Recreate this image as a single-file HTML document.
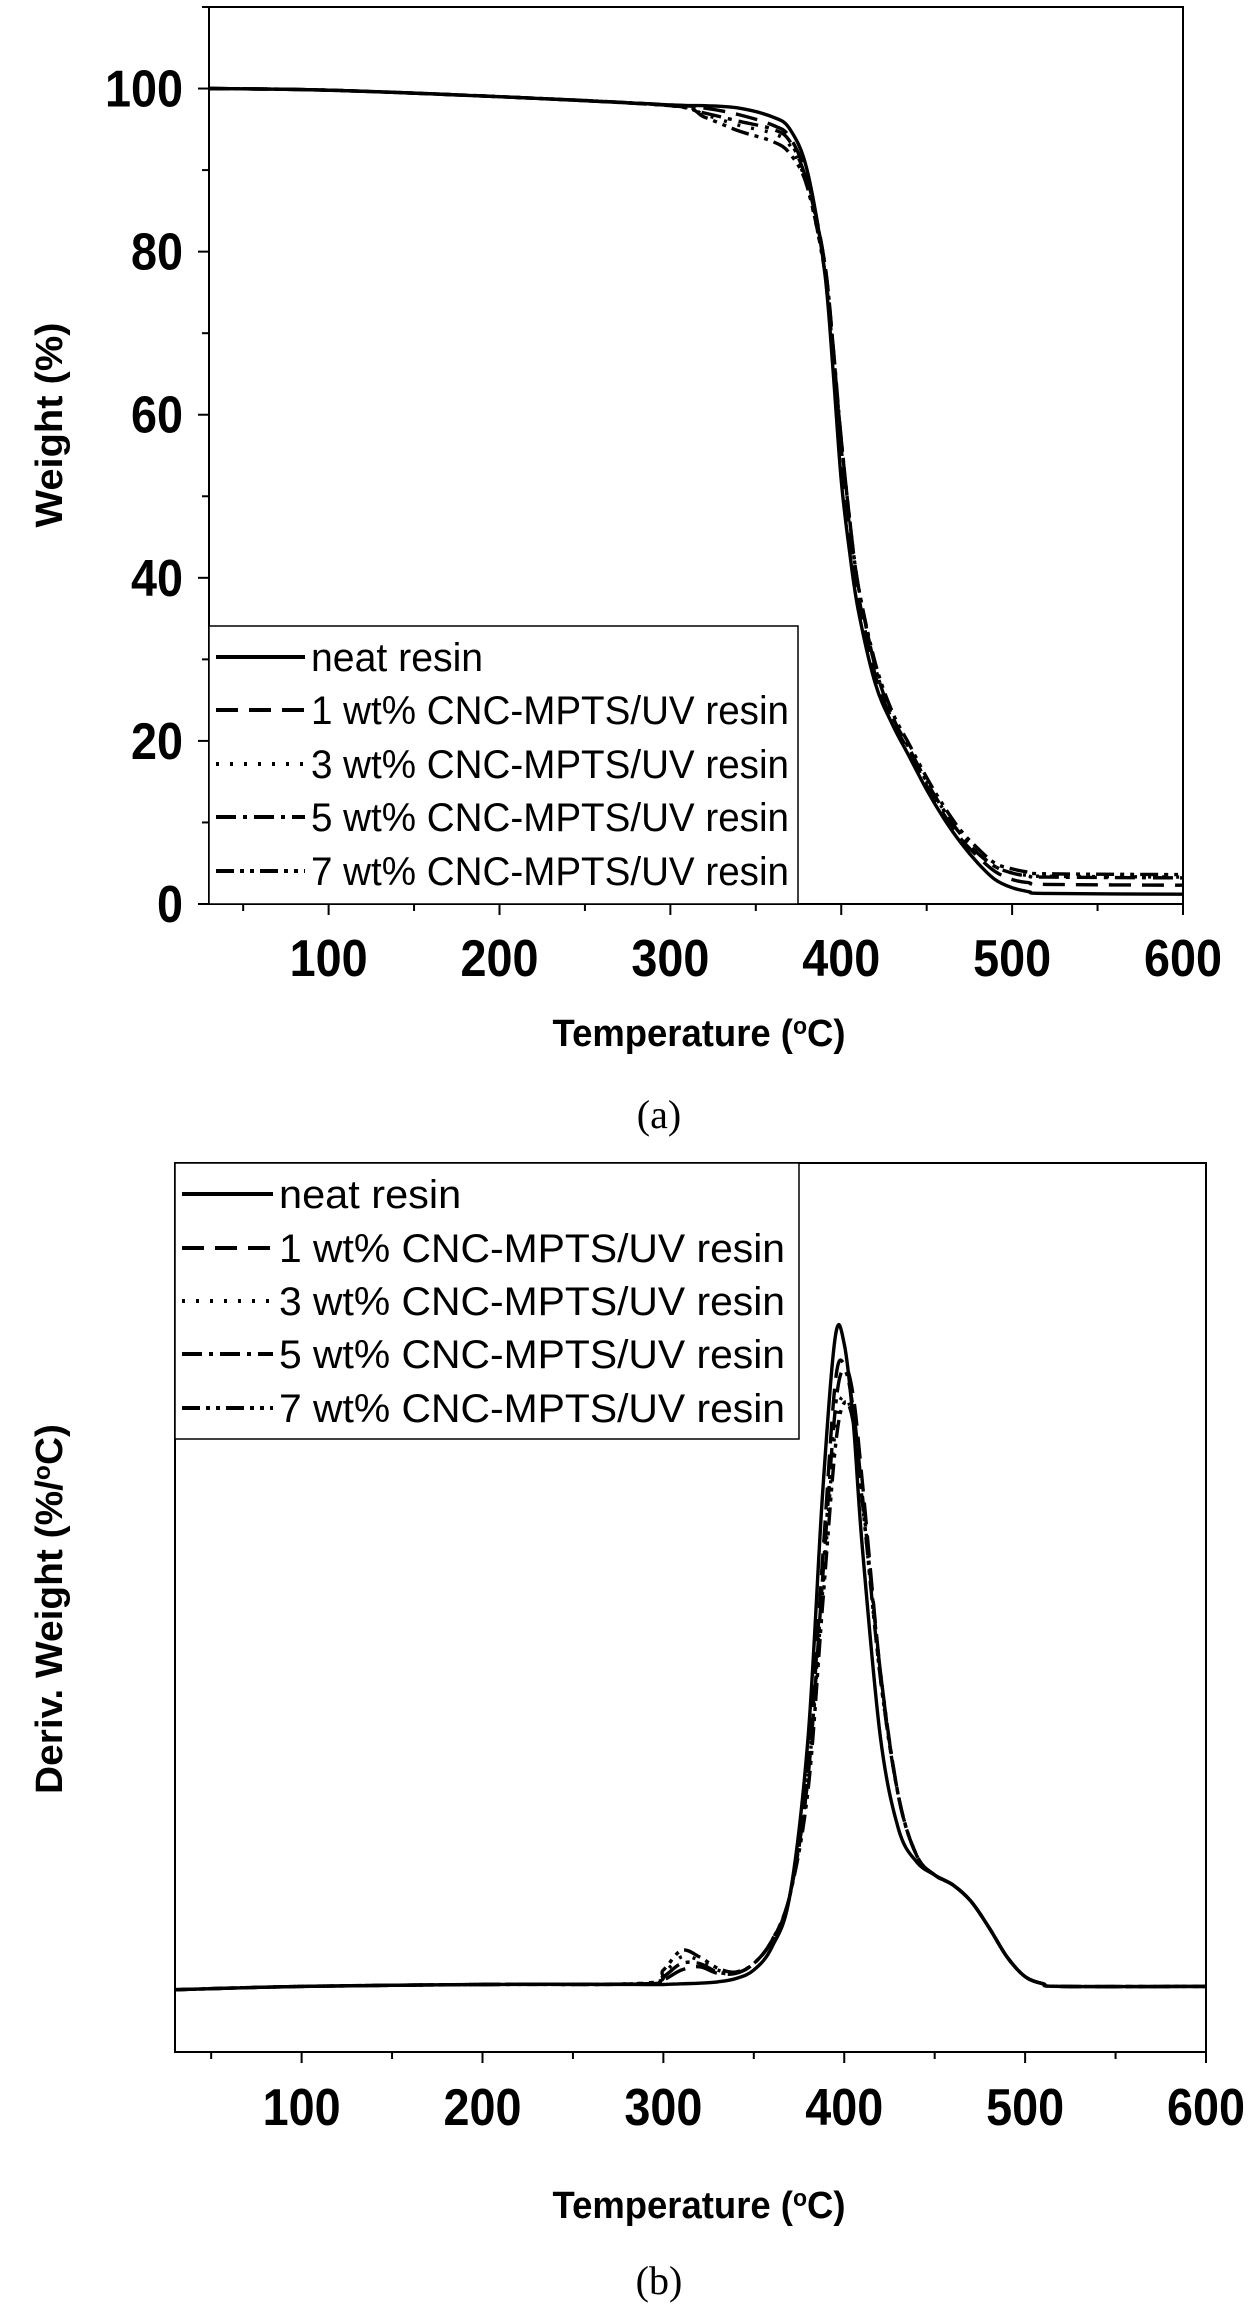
<!DOCTYPE html>
<html><head><meta charset="utf-8">
<style>
html,body{margin:0;padding:0;background:#fff;}
svg{display:block;}
text{font-family:"Liberation Sans",sans-serif;fill:#000;}
.tk{font-weight:bold;font-size:52px;}
.ttl{font-weight:bold;font-size:38px;}
.lg{font-size:40px;}
.cap{font-family:"Liberation Serif",serif;font-size:40px;}
</style></head>
<body>
<svg id="fig" width="1260" height="2314" viewBox="0 0 1260 2314" xmlns="http://www.w3.org/2000/svg"></svg>
<script>
const seriesNames = ["neat resin","1 wt% CNC-MPTS/UV resin","3 wt% CNC-MPTS/UV resin","5 wt% CNC-MPTS/UV resin","7 wt% CNC-MPTS/UV resin"];
const xTicks = [100,200,300,400,500,600];
const yTicksA = [0,20,40,60,80,100];
// TGA (a)
const tgaT = [30,100,200,300,320,340,360,370,380,390,395,400,405,410,420,430,440,450,460,470,480,490,500,510,520,600];
const tgaNeat = [100,99.8,99.0,98.0,97.9,97.6,96.5,95,90,78,66,52,43,36,27,22,18,14,10.5,7.5,5,3,2,1.5,1.3,1.2];
const tga1 = [100,99.8,99.0,98.0,97.6,96.8,95.5,94,89,79,69,56,46,38,28,22.5,18.5,14.5,11,8,5.8,4,3,2.6,2.4,2.3];
const tga3 = [100,99.8,99.0,97.9,96.8,95.5,94.5,93,88,78,68,57,47,39,29,23,19,15,11.5,8.5,6.3,4.6,3.8,3.5,3.4,3.3];
const tga5 = [100,99.8,99.0,97.9,97.0,96,95,93.5,88.5,79,69,57,47,39,29,23,19,15,11.5,8.5,6.2,4.6,3.8,3.4,3.3,3.2];
const tga7 = [100,99.8,99.0,97.9,96.5,94.8,93.5,92,88,78,68,57,47,39,29.5,23.5,19.5,15.5,12,9,6.8,5,4.3,3.9,3.7,3.6];
// DTG (b)
const dtgT = [30,100,200,290,300,310,320,330,340,350,360,370,380,388,395,400,405,410,420,430,440,450,460,470,480,490,500,510,520,600];
const dtgNeat = [-0.005,0,0.003,0.003,0.003,0.004,0.005,0.007,0.012,0.025,0.06,0.14,0.38,0.75,0.99,0.98,0.86,0.67,0.38,0.24,0.19,0.17,0.155,0.13,0.09,0.045,0.015,0.004,0,0];
const dtg1 = [-0.005,0,0.003,0.004,0.01,0.025,0.03,0.02,0.02,0.035,0.07,0.14,0.33,0.65,0.92,0.95,0.9,0.77,0.48,0.29,0.2,0.17,0.155,0.13,0.09,0.045,0.015,0.004,0,0];
const dtg3 = [-0.005,0,0.003,0.005,0.02,0.045,0.04,0.025,0.02,0.035,0.07,0.14,0.32,0.6,0.85,0.9,0.86,0.74,0.47,0.29,0.2,0.17,0.155,0.13,0.09,0.045,0.015,0.004,0,0];
const dtg5 = [-0.005,0,0.003,0.004,0.015,0.035,0.035,0.022,0.02,0.035,0.07,0.14,0.32,0.62,0.88,0.94,0.88,0.75,0.48,0.29,0.2,0.17,0.155,0.13,0.09,0.045,0.015,0.004,0,0];
const dtg7 = [-0.005,0,0.003,0.005,0.025,0.055,0.045,0.028,0.022,0.035,0.07,0.14,0.3,0.58,0.82,0.89,0.86,0.74,0.47,0.29,0.2,0.17,0.155,0.13,0.09,0.045,0.015,0.004,0,0];

const dashes = ["", "22,11", "3,11", "20,7,4,7", "18,6,4,6,4,6"];
const NS = "http://www.w3.org/2000/svg";
const svg = document.getElementById("fig");
function el(tag, attrs, parent, txt){
  const e = document.createElementNS(NS, tag);
  for (const k in attrs) e.setAttribute(k, attrs[k]);
  if (txt !== undefined) e.textContent = txt;
  (parent||svg).appendChild(e);
  return e;
}
function smoothPath(pts){
  let d = "M" + pts[0][0].toFixed(1) + "," + pts[0][1].toFixed(1);
  for (let i=0;i<pts.length-1;i++){
    const p0=pts[Math.max(0,i-1)], p1=pts[i], p2=pts[i+1], p3=pts[Math.min(pts.length-1,i+2)];
    const c1=[p1[0]+(p2[0]-p0[0])/6, p1[1]+(p2[1]-p0[1])/6];
    const c2=[p2[0]-(p3[0]-p1[0])/6, p2[1]-(p3[1]-p1[1])/6];
    d += "C"+c1[0].toFixed(1)+","+c1[1].toFixed(1)+" "+c2[0].toFixed(1)+","+c2[1].toFixed(1)+" "+p2[0].toFixed(1)+","+p2[1].toFixed(1);
  }
  return d;
}
function panel(cfg){
  const g = el("g", {});
  
  
  const X = v => cfg.L + (v - cfg.xmin) / (cfg.xmax - cfg.xmin) * (cfg.R - cfg.L);
  const Y = v => cfg.B - (v - cfg.ymin) / (cfg.ymax - cfg.ymin) * (cfg.B - cfg.T);
  const clip = el("clipPath", {id: cfg.name+"-clip"}, g);
  el("rect", {x:cfg.L, y:cfg.T, width:cfg.R-cfg.L, height:cfg.B-cfg.T}, clip);
  cfg.series.forEach((s,i)=>{
    const pts = cfg.xs.map((t,j)=>[X(t), Y(s[j])]);
    const p = el("path", {d: smoothPath(pts), fill:"none", stroke:"#000", "stroke-width":3.4, "stroke-dasharray":dashes[i], "clip-path":"url(#"+cfg.name+"-clip)"}, g);
    
    
  });
  const fr = el("rect", {x:cfg.L, y:cfg.T, width:cfg.R-cfg.L, height:cfg.B-cfg.T, fill:"none", stroke:"#000", "stroke-width":2}, g);
  
  
  for (let v=50; v<=600; v+=50){
    el("line", {x1:X(v), x2:X(v), y1:cfg.B, y2:cfg.B+(v%100===0?11:7), stroke:"#000","stroke-width":2}, g);
  }
  xTicks.forEach(v=>{
    const s = String(v);
    const t = el("text", {x:X(v), y:cfg.xLabY, "text-anchor":"middle", class:"tk", textLength:s.length*26, lengthAdjust:"spacingAndGlyphs"}, g, s);
    
    
  });
  if (cfg.yTicks){
    for (let v=0; v<=110; v+=10){
      el("line", {x1:cfg.L, x2:cfg.L-(v%20===0?11:7), y1:Y(v), y2:Y(v), stroke:"#000","stroke-width":2}, g);
    }
    cfg.yTicks.forEach(v=>{
      const s = String(v);
      const t = el("text", {x:cfg.L-26, y:Y(v)+18, "text-anchor":"end", class:"tk", textLength:s.length*26, lengthAdjust:"spacingAndGlyphs"}, g, s);
      
      
    });
  }
  const xt = el("text", {x:cfg.xTitleX, y:cfg.xTitleY, "text-anchor":"middle", class:"ttl", textLength:293, lengthAdjust:"spacingAndGlyphs"}, g);
  
  
  xt.innerHTML = 'Temperature (<tspan dy="-12" font-size="24">o</tspan><tspan dy="12">C)</tspan>';
  const yt = el("text", {x:0, y:0, "text-anchor":"middle", class:"ttl", textLength:cfg.yTitleLen, lengthAdjust:"spacingAndGlyphs", transform:"translate(62,"+cfg.yTitleY+") rotate(-90)"}, g);
  
  
  yt.innerHTML = cfg.yTitle;
  const lg = el("g", {}, g);
  
  
  el("rect", {x:cfg.lgX, y:cfg.lgY, width:cfg.lgW, height:cfg.lgH, fill:"#fff", stroke:"#000", "stroke-width":1.5}, lg);
  seriesNames.forEach((n,i)=>{
    const ry = cfg.lgRows[i];
    const e = el("g", {}, lg);
    
    
    el("line", {x1:cfg.lgX+7, x2:cfg.lgX+cfg.sampleW, y1:ry, y2:ry, stroke:"#000", "stroke-width":4, "stroke-dasharray":dashes[i]}, e);
    const attrs = {x:cfg.lgX+cfg.sampleW+6, y:ry+14, class:"lg", lengthAdjust:"spacingAndGlyphs"};
    attrs.textLength = i>0 ? cfg.lgTextW : cfg.lgTextW*0.36;
    el("text", attrs, e, n);
  });
  const c = el("text", {x:cfg.capX, y:cfg.capY, "text-anchor":"middle", class:"cap"}, g, cfg.cap);
  
  
}
panel({name:"tga-chart", L:209, R:1183, T:7, B:904, xmin:30, xmax:600, ymin:0, ymax:110,
  xs:tgaT, series:[tgaNeat,tga1,tga3,tga5,tga7], yTicks:yTicksA, xLabY:976,
  xTitleX:699, xTitleY:1046, yTitleY:425, yTitle:"Weight (%)", yTitleLen:205,
  lgX:209, lgY:626, lgW:589, lgH:278, lgRows:[657,710,764,817,871], sampleW:96, lgTextW:478,
  cap:"(a)", capX:659, capY:1128});
panel({name:"dtg-chart", L:175, R:1206, T:1163, B:2052, xmin:30, xmax:600, ymin:-0.1, ymax:1.256,
  xs:dtgT, series:[dtgNeat,dtg1,dtg3,dtg5,dtg7], yTicks:null, xLabY:2125,
  xTitleX:699, xTitleY:2218, yTitleY:1609, yTitle:"Deriv. Weight (%/<tspan dy=\"-12\" font-size=\"24\">o</tspan><tspan dy=\"12\">C)</tspan>", yTitleLen:370,
  lgX:175, lgY:1163, lgW:624, lgH:276, lgRows:[1194,1248,1301,1354,1408], sampleW:98, lgTextW:506,
  cap:"(b)", capX:659, capY:2294});
</script>
</body></html>
